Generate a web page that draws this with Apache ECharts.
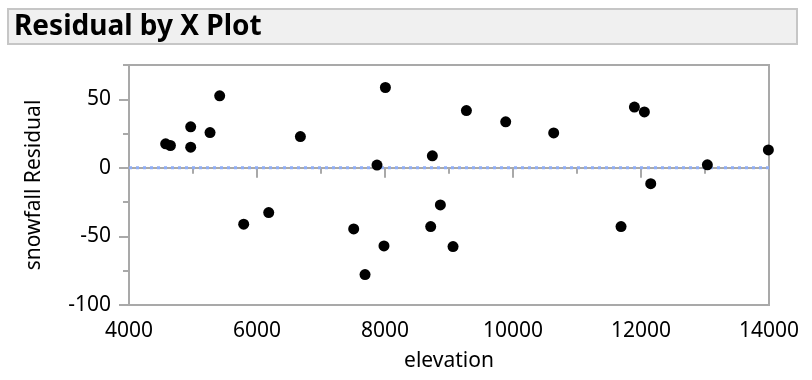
<!DOCTYPE html>
<html>
<head>
<meta charset="utf-8">
<script src="https://cdn.jsdelivr.net/npm/echarts@6/dist/echarts.min.js"></script>
<style>
  html, body { margin: 0; padding: 0; background: #ffffff; }
  #chart { width: 812px; height: 380px; }
</style>
</head>
<body>
<div id="chart"></div>
<script>
// ---- data ----
var titleText = 'Residual by X Plot';
var xAxisName = 'elevation';
var yAxisName = 'snowfall Residual';
var elevation = [4573, 4647, 4964, 4964, 5266, 5417, 5792, 6183, 6678, 7511, 7688, 7875, 8006, 7984,
                 8740, 8714, 8865, 9063, 9272, 9886, 10636, 11688, 11897, 12053, 12152, 13037, 13990];
var residual  = [17.5, 16.3, 29.9, 15.1, 25.7, 52.5, -41.1, -32.6, 22.8, -44.5, -77.8, 2.0, 58.6, -56.9,
                 8.8, -42.8, -27.0, -57.4, 41.8, 33.6, 25.5, -42.8, 44.3, 40.8, -11.5, 2.2, 13.1];
var xRange = [4000, 14000];
var yRange = [-100, 75];
var zeroResidual = 0;
var yMajorTicks = [-100, -50, 0, 50];
var yMinorTicks = [-75, -25, 25, 75];

var points = elevation.map(function (e, i) { return [e, residual[i]]; });
var zeroLine = xRange.map(function (x) { return [x, zeroResidual]; });

var FONT = 'Noto Sans';
var axisGray = '#a9a9a9';

var chart = echarts.init(document.getElementById('chart'), null, { renderer: 'canvas' });
chart.setOption({
  animation: false,
  backgroundColor: '#ffffff',
  graphic: [
    {
      type: 'rect',
      shape: { x: 8, y: 9, width: 789, height: 35 },
      style: { fill: '#f0f0f0', stroke: '#c6c6c6', lineWidth: 2 },
      silent: true
    },
    {
      type: 'text',
      x: 14, y: 27,
      style: {
        text: titleText,
        fill: '#000',
        font: 'bold 28px "Noto Sans"',
        verticalAlign: 'middle',
        align: 'left'
      },
      silent: true
    }
  ],
  grid: {
    left: 129, top: 65, width: 640, height: 240,
    show: true, borderColor: axisGray, borderWidth: 2, backgroundColor: '#fff'
  },
  xAxis: {
    type: 'value',
    min: xRange[0], max: xRange[1], interval: 2000,
    name: xAxisName,
    nameLocation: 'middle',
    nameGap: 46,
    nameTextStyle: { fontFamily: FONT, fontSize: 21, color: '#000' },
    axisLine: { show: true, lineStyle: { color: axisGray, width: 2 } },
    axisTick: { show: true, inside: false, length: 10, lineStyle: { color: axisGray, width: 2 } },
    minorTick: { show: true, splitNumber: 2, length: 6, lineStyle: { color: axisGray, width: 2 } },
    axisLabel: {
      fontFamily: FONT, fontSize: 21, color: '#000', margin: 16,
      formatter: function (v) { return String(v); }
    },
    splitLine: { show: false }
  },
  yAxis: [
    {
      type: 'value',
      min: yRange[0], max: yRange[1], interval: 50,
      name: yAxisName,
      nameLocation: 'middle',
      nameGap: 84,
      nameTextStyle: { fontFamily: FONT, fontSize: 21, color: '#000' },
      axisLine: { show: true, lineStyle: { color: axisGray, width: 2 } },
      axisTick: { show: true, inside: false, length: 10, customValues: yMajorTicks, lineStyle: { color: axisGray, width: 2 } },
      axisLabel: { fontFamily: FONT, fontSize: 21, color: '#000', margin: 18, customValues: yMajorTicks },
      splitLine: { show: false }
    },
    {
      type: 'value',
      min: yRange[0], max: yRange[1], interval: 25,
      position: 'left',
      axisLine: { show: false },
      axisTick: { show: true, inside: false, length: 6, customValues: yMinorTicks, lineStyle: { color: axisGray, width: 2 } },
      axisLabel: { show: false },
      splitLine: { show: false }
    }
  ],
  series: [
    {
      type: 'line',
      xAxisIndex: 0,
      yAxisIndex: 0,
      data: zeroLine,
      symbol: 'none',
      silent: true,
      lineStyle: { color: '#8eadf6', type: [3, 4], width: 3, opacity: 1 },
      z: 2
    },
    {
      type: 'scatter',
      xAxisIndex: 0,
      yAxisIndex: 0,
      data: points,
      symbol: 'circle',
      symbolSize: 11,
      clip: true,
      itemStyle: { color: '#000', opacity: 1 },
      z: 3
    }
  ]
});
</script>
</body>
</html>
